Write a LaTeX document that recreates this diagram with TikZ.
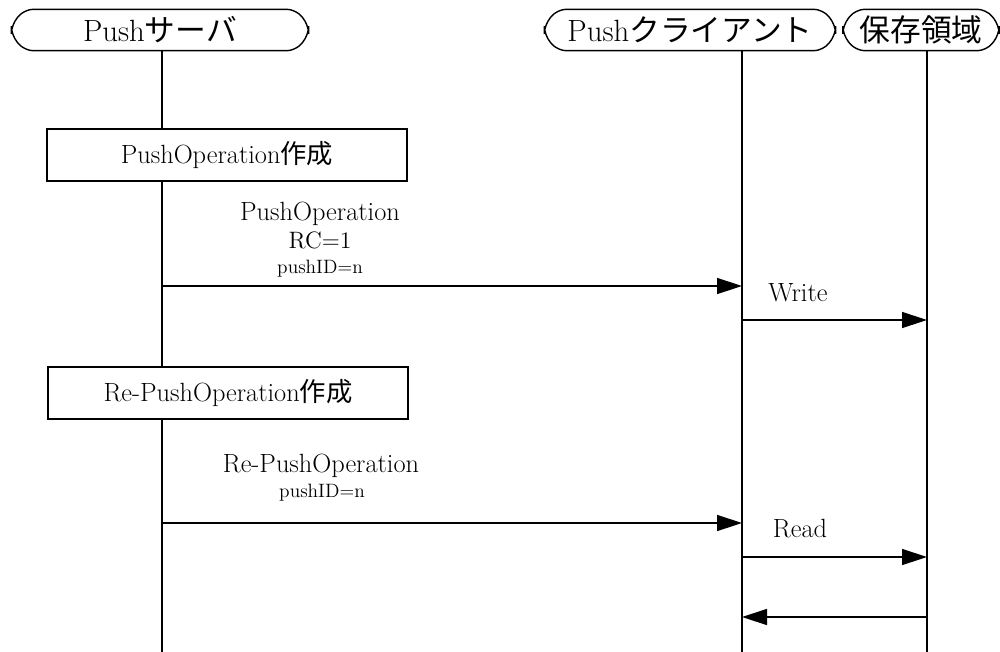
\documentclass[tikz,border=0pt]{standalone}
\usepackage{fontspec}
\newfontfamily\jp{Noto Sans CJK JP}
\usetikzlibrary{arrows.meta}

\begin{document}
\begin{tikzpicture}[x=0.02cm, y=-0.02cm, line width=0.8pt]
  \tikzstyle{actor}=[rectangle, minimum height=0.8cm, inner sep=0pt, font=\fontsize{17.5}{21}\selectfont]
  \tikzstyle{proc}=[rectangle, draw, fill=white, minimum width=7.2cm, minimum height=1.04cm, font=\fontsize{15}{18}\selectfont]
  \tikzstyle{msg}=[-{Triangle[length=0.5cm, width=0.32cm]}]
  \tikzstyle{lbl}=[anchor=base, inner sep=0pt, font=\fontsize{15}{18}\selectfont]
  \tikzstyle{sub}=[lbl, font=\fontsize{11}{13}\selectfont]
  \useasboundingbox (0,0) rectangle (1000,652);
  \node[actor, minimum width=5.92cm] (srv) at (160,30) {Push{\jp サーバ}};
  \node[actor, minimum width=5.8cm] (cli) at (690,30) {Push{\jp クライアント}};
  \node[actor, minimum width=3.1cm] (sto) at (921,30) {{\jp 保存領域}};
  % header outlines
  \foreach \n in {srv, cli, sto}
    \draw[rounded corners=5pt] ([xshift=0.26cm]\n.north west) -- ([xshift=-0.26cm]\n.north east)
      -- ([yshift=0.1cm]\n.east) -- ([yshift=-0.1cm]\n.east) -- ([xshift=-0.26cm]\n.south east)
      -- ([xshift=0.26cm]\n.south west) -- ([yshift=-0.1cm]\n.west) -- ([yshift=0.1cm]\n.west) -- cycle;
  % lifelines
  \coordinate (srv-l) at (162,652);
  \coordinate (cli-l) at (742,652);
  \coordinate (sto-l) at (927,652);
  \draw (srv-l |- srv.south) -- (srv-l);
  \draw (cli-l |- cli.south) -- (cli-l);
  \draw (sto-l |- sto.south) -- (sto-l);
  \node[proc] (mk) at (227,155) {PushOperation{\jp 作成}};
  \node[proc] (remk) at (228,393) {Re-PushOperation{\jp 作成}};
  % messages
  \foreach \y/\a/\b in {286/srv/cli, 320/cli/sto, 523/srv/cli, 557/cli/sto, 617/sto/cli}
    \draw[msg] (\a-l |- 0,\y) -- (\b-l |- 0,\y);
  \node[lbl] (push-op) at (320,220) {PushOperation};
  \node[lbl, font=\fontsize{13.5}{16}\selectfont] (push-rc) at (320,248) {RC=1};
  \node[sub] (push-id) at (320,273) {pushID=n};
  \node[lbl] (write) at (798,301) {Write};
  \node[lbl] (repush-op) at (321,472) {Re-PushOperation};
  \node[sub] (repush-id) at (322,497) {pushID=n};
  \node[lbl] (read) at (800,537) {Read};
\end{tikzpicture}
\end{document}
